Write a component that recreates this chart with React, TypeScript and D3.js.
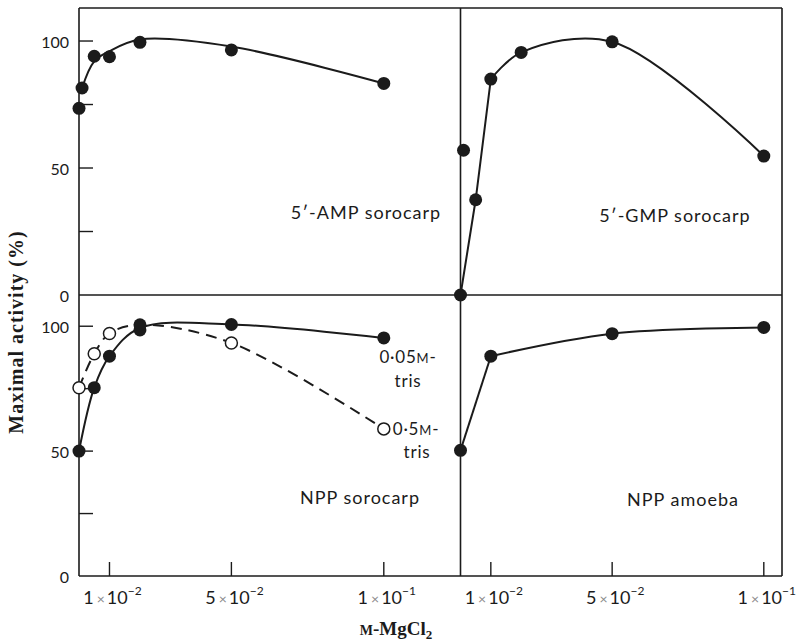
import React from 'react';
import * as d3 from 'd3';

// concentrations (M MgCl2) and % activity
const ampConc = [0, 0.001, 0.005, 0.01, 0.02, 0.05, 0.1];
const ampValues = [73.5, 81.5, 94, 93.8, 99.5, 96.5, 83.3];
const ampCurveConc = [0.001, 0.005, 0.01, 0.02, 0.05, 0.1];
const ampCurveValues = [81.5, 92, 96, 100.6, 97.8, 83.3];

const gmpConc = [0, 0.001, 0.005, 0.01, 0.02, 0.05, 0.1];
const gmpValues = [0, 57, 37.5, 85, 95.5, 99.7, 54.7];
// straight rise, then a smooth curve
const gmpRiseConc = [0, 0.005, 0.01];
const gmpRiseValues = [0, 37.5, 85];
const gmpCurveConc = [0.01, 0.02, 0.05, 0.1];
const gmpCurveValues = [85, 95.5, 99.7, 54.7];

const nppLowTrisConc = [0, 0.005, 0.01, 0.02, 0.02, 0.05, 0.1];
const nppLowTrisValues = [50, 75.4, 88, 98.5, 100.6, 100.7, 95.3];
const nppLowCurveConc = [0, 0.005, 0.01, 0.02, 0.05, 0.1];
const nppLowCurveValues = [50, 75.4, 88, 99.3, 100.7, 95.3];

const nppHighTrisConc = [0, 0.005, 0.01, 0.05, 0.1];
const nppHighTrisValues = [75.4, 89, 97.1, 93.3, 58.9];
const nppHighCurveConc = [0, 0.005, 0.01, 0.02, 0.05, 0.1];
const nppHighCurveValues = [75.4, 89, 97.1, 100.6, 93.3, 58.9];

const amoebaConc = [0, 0.01, 0.05, 0.1];
const amoebaValues = [50.3, 88, 97, 99.5];
const amoebaRiseConc = [0, 0.01];
const amoebaRiseValues = [50.3, 88];
const amoebaCurveConc = [0.01, 0.05, 0.1];
const amoebaCurveValues = [88, 97, 99.5];

const yTicks = [25, 50, 75, 100];
const yLabels = [0, 50, 100];
const xTicks = [0.01, 0.05, 0.1];
const xTickMantissa = ['1', '5', '1'];
const xTickExponent = ['−2', '−2', '−1'];

const ink = '#1b1b1b';
const sans = 'Lato, "Open Sans", sans-serif';
const serif = '"Liberation Serif", "DejaVu Serif", serif';

const xLeft = d3.scaleLinear().domain([0, 0.125]).range([79, 460]);
const xRight = d3.scaleLinear().domain([0, 0.106]).range([460.5, 782]);
const yTop = d3.scaleLinear().domain([0, 113]).range([295, 8]);
const yBottom = d3.scaleLinear().domain([0, 112.5]).range([576, 295]);

function curvePath(xs: number[], ys: number[], x: any, y: any, curve: any = d3.curveCatmullRom.alpha(0.5)) {
  const line = d3.line<number>()
    .x((_, i) => x(xs[i]))
    .y((_, i) => y(ys[i]))
    .curve(curve);
  return line(xs.map((_, i) => i)) || '';
}

function Dots({ xs, ys, x, y, open = false, r = 6.5 }: any) {
  return (
    <g>
      {xs.map((c: number, i: number) => (
        <circle key={i} cx={x(c)} cy={y(ys[i])} r={open ? r - 0.5 : r}
          fill={open ? '#fff' : ink} stroke={ink} strokeWidth={open ? 1.5 : 0} />
      ))}
    </g>
  );
}

function XTickLabels({ x }: any) {
  return (
    <g fontFamily={sans} fontSize={18} fill={ink}>
      {xTicks.map((t, i) => (
        <text key={i} x={x(t) + 3} y={604} textAnchor="middle">
          {xTickMantissa[i]}
          <tspan fontSize={14} fill="#8a8a8a" dx={3}>×</tspan>
          <tspan dx={2}>10</tspan>
          <tspan fontSize={12} dy={-9}>{xTickExponent[i]}</tspan>
        </text>
      ))}
    </g>
  );
}

export default function App() {
  const tickLen = 14;
  return (
    <svg width={802} height={644} style={{ position: 'absolute', left: 0, top: 0, background: '#fff' }}>
      <rect width={802} height={644} fill="#fff" />

      {/* frame */}
      <g stroke={ink} strokeWidth={1.6} fill="none">
        <line x1={79} y1={8} x2={782} y2={8} />
        <line x1={79} y1={8} x2={79} y2={576} />
        <line x1={460.5} y1={8} x2={460.5} y2={576} />
        <line x1={782} y1={8} x2={782} y2={576} />
        <line x1={79} y1={295} x2={782} y2={295} />
        <line x1={79} y1={576} x2={782} y2={576} />
      </g>

      {/* ticks */}
      <g stroke={ink} strokeWidth={1.4}>
        {yTicks.map(t => (
          <line key={'t' + t} x1={79} x2={79 + tickLen} y1={yTop(t)} y2={yTop(t)} />
        ))}
        {yTicks.map(t => (
          <line key={'b' + t} x1={79} x2={79 + tickLen} y1={yBottom(t)} y2={yBottom(t)} />
        ))}
        {xTicks.map(t => (
          <line key={'l' + t} x1={xLeft(t)} x2={xLeft(t)} y1={576} y2={576 - tickLen} />
        ))}
        {xTicks.map(t => (
          <line key={'r' + t} x1={xRight(t)} x2={xRight(t)} y1={576} y2={576 - tickLen} />
        ))}
      </g>

      <g fontFamily={sans} fontSize={16} fill={ink} textAnchor="end" dominantBaseline="central">
        {yLabels.map(t => (
          <text key={'yt' + t} x={69} y={yTop(t)}>{t}</text>
        ))}
        {yLabels.filter(t => t > 0).map(t => (
          <text key={'yb' + t} x={69} y={yBottom(t)}>{t}</text>
        ))}
        <text x={69} y={yBottom(0)}>0</text>
      </g>

      <XTickLabels x={xLeft} />
      <XTickLabels x={xRight} />

      {/* curves */}
      <g fill="none" stroke={ink} strokeWidth={2}>
        <path d={curvePath(ampCurveConc, ampCurveValues, xLeft, yTop)} />
        <path d={curvePath(gmpRiseConc, gmpRiseValues, xRight, yTop, d3.curveLinear)} />
        <path d={curvePath(gmpCurveConc, gmpCurveValues, xRight, yTop)} />
        <path d={curvePath(nppLowCurveConc, nppLowCurveValues, xLeft, yBottom)} />
        <path d={curvePath(nppHighCurveConc, nppHighCurveValues, xLeft, yBottom)} strokeDasharray="11,7" />
        <path d={curvePath(amoebaRiseConc, amoebaRiseValues, xRight, yBottom, d3.curveLinear)} />
        <path d={curvePath(amoebaCurveConc, amoebaCurveValues, xRight, yBottom)} />
      </g>

      <Dots xs={ampConc} ys={ampValues} x={xLeft} y={yTop} />
      <Dots xs={gmpConc} ys={gmpValues} x={xRight} y={yTop} />
      <Dots xs={nppHighTrisConc} ys={nppHighTrisValues} x={xLeft} y={yBottom} open />
      <Dots xs={nppLowTrisConc} ys={nppLowTrisValues} x={xLeft} y={yBottom} />
      <Dots xs={amoebaConc} ys={amoebaValues} x={xRight} y={yBottom} />

      {/* panel labels */}
      <g fontFamily={sans} fontSize={18} fill={ink} textAnchor="middle" letterSpacing={1}>
        <text x={366} y={219}>5′-AMP sorocarp</text>
        <text x={675} y={222}>5′-GMP sorocarp</text>
        <text x={360} y={504}>NPP sorocarp</text>
        <text x={683} y={506}>NPP amoeba</text>
      </g>
      <g fontFamily={sans} fontSize={17} fill={ink} textAnchor="middle" letterSpacing={0.8}>
        <text x={408} y={363}>0·05<tspan fontSize={13}>M</tspan>-</text>
        <text x={408} y={387}>tris</text>
        <text x={416} y={435}>0·5<tspan fontSize={13}>M</tspan>-</text>
        <text x={417} y={458}>tris</text>
      </g>

      {/* axis titles */}
      <text transform="translate(23,332) rotate(-90)" textAnchor="middle"
        fontFamily={serif} fontWeight="bold" fontSize={20} fill={ink} letterSpacing={1}>
        Maximal activity (%)
      </text>
      <text x={396} y={635} textAnchor="middle" fontFamily={serif} fontWeight="bold" fontSize={19} fill={ink}>
        <tspan fontSize={14}>M</tspan>-MgCl<tspan fontSize={13} dy={4}>2</tspan>
      </text>
    </svg>
  );
}
